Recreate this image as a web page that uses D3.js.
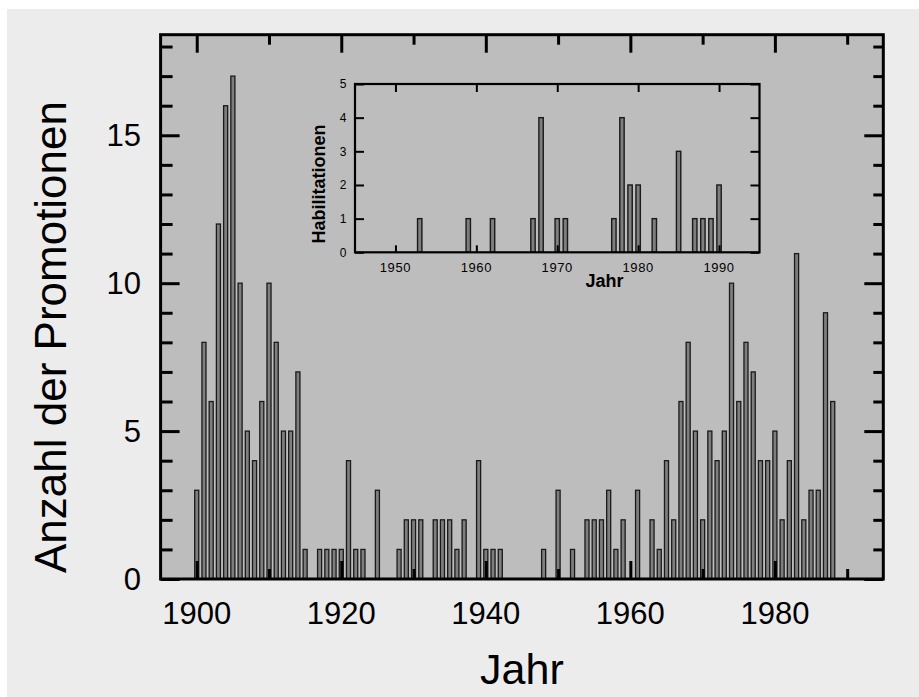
<!DOCTYPE html>
<html>
<head>
<meta charset="utf-8">
<script src="https://cdn.jsdelivr.net/npm/d3@7"></script>
<style>
  body { margin: 0; background: #fff; }
  svg { display: block; }
  text { font-family: "Liberation Sans", Arial, sans-serif; fill: #000; }
</style>
</head>
<body>
<svg id="chart" width="919" height="697"></svg>
<script>
// Promotionen pro Jahr (Hauptgrafik), nur Jahre mit Werten > 0
var promoYears = [1900,1901,1902,1903,1904,1905,1906,1907,1908,1909,1910,1911,1912,1913,1914,1915,
  1917,1918,1919,1920,1921,1922,1923,1925,1928,1929,1930,1931,1933,1934,1935,1936,1937,1939,1940,1941,1942,
  1948,1950,1952,1954,1955,1956,1957,1958,1959,1961,1963,1964,1965,1966,1967,1968,1969,1970,1971,1972,1973,
  1974,1975,1976,1977,1978,1979,1980,1981,1982,1983,1984,1985,1986,1987,1988]
var promoCounts = [3,8,6,12,16,17,10,5,4,6,10,8,5,5,7,1,
  1,1,1,1,4,1,1,3,1,2,2,2,2,2,2,1,2,4,1,1,1,
  1,3,1,2,2,2,3,1,2,3,2,1,4,2,6,8,5,2,5,4,5,
  10,6,8,7,4,4,5,2,4,11,2,3,3,9,6]

// Habilitationen (Einschub)
var habilYears  = [1953,1959,1962,1967,1968,1970,1971,1977,1978,1979,1980,1982,1985,1987,1988,1989,1990]
var habilCounts = [1,1,1,1,4,1,1,1,4,2,2,1,3,1,1,1,2]

var mainXMajor = [1900,1920,1940,1960,1980]
var mainXMinor = [1910,1930,1950,1970,1990]
var mainYMajor = [0,5,10,15]
var mainYMinor = [1,2,3,4,6,7,8,9,11,12,13,14,16,17,18]
var insetXTicks = [1950,1960,1970,1980,1990]
var insetYTicks = [0,1,2,3,4,5]

var svg = d3.select("#chart")

// background
svg.append("rect").attr("x", 7).attr("y", 9).attr("width", 912).attr("height", 688).attr("fill", "#ececec")

// main plot area
var plot = { left: 160.6, right: 883.3, top: 34.7, bottom: 579 }
var x = d3.scaleLinear().domain([1895, 1995]).range([plot.left, plot.right])
var y = d3.scaleLinear().domain([0, 18.4]).range([plot.bottom, plot.top])

svg.append("rect")
  .attr("x", plot.left).attr("y", plot.top)
  .attr("width", plot.right - plot.left).attr("height", plot.bottom - plot.top)
  .attr("fill", "#bdbdbd")

var promoData = promoYears.map(function(yr, i){ return { year: yr, n: promoCounts[i] } })

svg.append("g").selectAll("rect")
    .data(promoData)
    .enter()
  .append("rect")
    .attr("x", function(d){ return x(d.year - 0.28) })
    .attr("width", function(d){ return x(d.year + 0.28) - x(d.year - 0.28) })
    .attr("y", function(d){ return y(d.n) })
    .attr("height", function(d){ return y(0) - y(d.n) })
    .attr("fill", "#7e7e7e")
    .attr("stroke", "#1a1a1a")
    .attr("stroke-width", 1.3)

// inward ticks on all four sides
function tickGroup(axis, tx, ty, width){
  var g = svg.append("g")
    .attr("transform", "translate(" + tx + "," + ty + ")")
    .call(axis)
  g.select(".domain").remove()
  g.selectAll("text").remove()
  g.selectAll("line").attr("stroke", "#000").attr("stroke-width", width)
  return g
}

tickGroup(d3.axisBottom(x).tickValues(mainXMajor).tickSize(-18), 0, plot.bottom, 3)
tickGroup(d3.axisBottom(x).tickValues(mainXMinor).tickSize(-10), 0, plot.bottom, 3)
tickGroup(d3.axisTop(x).tickValues(mainXMajor).tickSize(-18), 0, plot.top, 3)
tickGroup(d3.axisTop(x).tickValues(mainXMinor).tickSize(-10), 0, plot.top, 3)
tickGroup(d3.axisLeft(y).tickValues(mainYMajor).tickSize(-19), plot.left, 0, 3)
tickGroup(d3.axisLeft(y).tickValues(mainYMinor).tickSize(-12), plot.left, 0, 3)
tickGroup(d3.axisRight(y).tickValues(mainYMajor).tickSize(-19), plot.right, 0, 3)
tickGroup(d3.axisRight(y).tickValues(mainYMinor).tickSize(-10), plot.right, 0, 3)

svg.append("rect")
  .attr("x", plot.left).attr("y", plot.top)
  .attr("width", plot.right - plot.left).attr("height", plot.bottom - plot.top)
  .attr("fill", "none").attr("stroke", "#000").attr("stroke-width", 3)

// main tick labels
svg.append("g").selectAll("text")
    .data(mainXMajor)
    .enter()
  .append("text")
    .attr("x", function(d){ return x(d) })
    .attr("y", 623.5)
    .attr("text-anchor", "middle")
    .attr("font-size", 31)
    .text(function(d){ return d })

svg.append("g").selectAll("text")
    .data(mainYMajor)
    .enter()
  .append("text")
    .attr("x", 141)
    .attr("y", function(d){ return y(d) })
    .attr("dy", "0.36em")
    .attr("text-anchor", "end")
    .attr("font-size", 31)
    .text(function(d){ return d })

svg.append("text")
  .attr("x", (plot.left + plot.right) / 2)
  .attr("y", 684)
  .attr("text-anchor", "middle")
  .attr("font-size", 43)
  .text("Jahr")

svg.append("text")
  .attr("transform", "translate(66,337) rotate(-90)")
  .attr("text-anchor", "middle")
  .attr("font-size", 44)
  .attr("textLength", 472)
  .attr("lengthAdjust", "spacingAndGlyphs")
  .text("Anzahl der Promotionen")

// inset
var inset = { left: 355, right: 759.5, top: 84, bottom: 252.3 }
var ix = d3.scaleLinear().domain([1945, 1995]).range([inset.left, inset.right])
var iy = d3.scaleLinear().domain([0, 5]).range([inset.bottom, inset.top])

var habilData = habilYears.map(function(yr, i){ return { year: yr, n: habilCounts[i] } })

svg.append("g").selectAll("rect")
    .data(habilData)
    .enter()
  .append("rect")
    .attr("x", function(d){ return ix(d.year - 0.27) })
    .attr("width", function(d){ return ix(d.year + 0.27) - ix(d.year - 0.27) })
    .attr("y", function(d){ return iy(d.n) })
    .attr("height", function(d){ return iy(0) - iy(d.n) })
    .attr("fill", "#7e7e7e")
    .attr("stroke", "#1a1a1a")
    .attr("stroke-width", 1.4)

tickGroup(d3.axisBottom(ix).tickValues(insetXTicks).tickSize(-7), 0, inset.bottom, 2)
tickGroup(d3.axisTop(ix).tickValues(insetXTicks).tickSize(-8), 0, inset.top, 2)
tickGroup(d3.axisLeft(iy).tickValues(insetYTicks).tickSize(-9), inset.left, 0, 2)
tickGroup(d3.axisRight(iy).tickValues(insetYTicks).tickSize(-9), inset.right, 0, 2)

svg.append("rect")
  .attr("x", inset.left).attr("y", inset.top)
  .attr("width", inset.right - inset.left).attr("height", inset.bottom - inset.top)
  .attr("fill", "none").attr("stroke", "#000").attr("stroke-width", 2.2)

svg.append("g").selectAll("text")
    .data(insetXTicks)
    .enter()
  .append("text")
    .attr("x", function(d){ return ix(d) })
    .attr("y", 272)
    .attr("text-anchor", "middle")
    .attr("font-size", 13)
    .attr("letter-spacing", 0.6)
    .text(function(d){ return d })

svg.append("g").selectAll("text")
    .data(insetYTicks)
    .enter()
  .append("text")
    .attr("x", 343)
    .attr("y", function(d){ return iy(d) })
    .attr("dy", "0.36em")
    .attr("text-anchor", "middle")
    .attr("font-size", 12)
    .text(function(d){ return d })

svg.append("text")
  .attr("x", 604.5)
  .attr("y", 286.5)
  .attr("text-anchor", "middle")
  .attr("font-size", 18)
  .attr("font-weight", "bold")
  .text("Jahr")

svg.append("text")
  .attr("transform", "translate(325,184) rotate(-90)")
  .attr("text-anchor", "middle")
  .attr("font-size", 18)
  .attr("font-weight", "bold")
  .text("Habilitationen")
</script>
</body>
</html>
